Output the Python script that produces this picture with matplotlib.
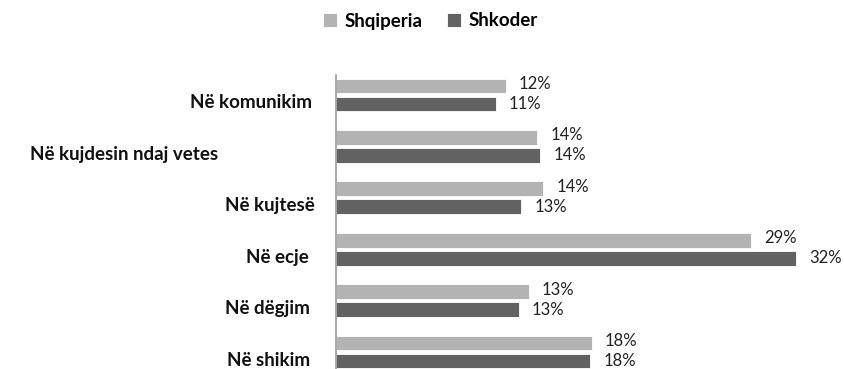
import numpy as np
import matplotlib.pyplot as plt
import matplotlib.transforms as mtransforms

categories = ["Në komunikim", "Në kujdesin ndaj vetes", "Në kujtesë",
              "Në ecje", "Në dëgjim", "Në shikim"]
shqiperia = [11.8, 14.0, 14.4, 28.9, 13.4, 17.8]
shkoder = [11.1, 14.2, 12.9, 32.0, 12.7, 17.7]

plt.rcParams['font.family'] = ['Lato', 'DejaVu Sans']

W, H = 844, 369
fig = plt.figure(figsize=(W / 100, H / 100), dpi=100)
left, right, top, bottom = 336, 839, 75, 369
ax = fig.add_axes([left / W, 1 - bottom / H, (right - left) / W, (bottom - top) / H])

y = np.arange(len(categories))
h = 0.29
off = 0.175
light, dark = "#b3b3b3", "#626262"

b1 = ax.barh(y - off, shqiperia, height=h, color=light, edgecolor="white",
             linewidth=0.6, label="Shqiperia")
b2 = ax.barh(y + off, shkoder, height=h, color=dark, edgecolor="white",
             linewidth=0.6, label="Shkoder")

for bars, vals, dy in ((b1, shqiperia, 1.5), (b2, shkoder, 0)):
    for bar, v in zip(bars, vals):
        ax.annotate(f"{v:.0f}%", (v, bar.get_y() + bar.get_height() / 2),
                    xytext=(9.5, dy), textcoords="offset points",
                    va="center", ha="left", fontsize=12, color="#222222")

ax.set_xlim(0, 35)
ax.set_ylim(5.33, -0.389)
ax.set_yticks([])
ax.set_xticks([])

# category labels, right edges as laid out in the original sheet
label_right = [312, 218, 315, 309, 310, 310]
trans = mtransforms.blended_transform_factory(fig.transFigure, ax.transData)
trans = mtransforms.offset_copy(trans, fig=fig, y=-8, units="dots")
for yi, name, xr in zip(y, categories, label_right):
    ax.text(xr / W, yi, name, transform=trans, ha="right", va="center",
            fontsize=13.5, fontweight="bold", color="#111111")

for side in ("top", "right", "bottom"):
    ax.spines[side].set_visible(False)
ax.spines["left"].set_color("#999999")
ax.spines["left"].set_linewidth(1.2)

fig.legend(handles=[b1, b2], loc="center", bbox_to_anchor=(430 / W, 1 - 21 / H),
           ncol=2, frameon=False, handlelength=0.75,
           handleheight=0.75, handletextpad=0.4, columnspacing=1.3,
           prop={'weight': 'bold', 'size': 13.5})

fig.savefig("out.png", dpi=100)
